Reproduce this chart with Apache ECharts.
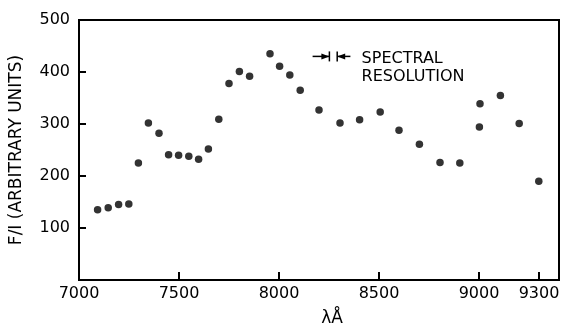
<!DOCTYPE html>
<html>
<head>
<meta charset="utf-8">
<script src="https://cdn.jsdelivr.net/npm/echarts@6/dist/echarts.min.js"></script>
<style>html,body{margin:0;padding:0;background:#fff}#c{width:563px;height:332px}</style>
</head>
<body>
<div id="c"></div>
<script>
// Wavelength (Å) and F/I values
const wavelengths = [7093, 7146, 7198, 7249, 7297, 7347, 7400, 7448, 7498, 7549, 7598, 7647, 7699, 7750, 7802, 7853, 7955, 8003, 8054, 8106, 8200, 8305, 8403, 8506, 8600, 8702, 8805, 8904, 9002, 9005, 9107, 9201, 9299];
const fluxRatio = [135, 139, 145, 146, 225, 302, 282, 241, 240, 238, 232, 252, 309, 378, 401, 392, 435, 411, 394, 365, 327, 302, 308, 323, 288, 261, 226, 225, 294, 339, 355, 301, 190];
const xTicks = [7000, 7500, 8000, 8500, 9000, 9300];
const yTicks = [0, 100, 200, 300, 400, 500];
// spectral resolution marker: [arrow start, bar 1, bar 2, arrow end, level]
const resolutionMarker = [8168, 8252, 8291, 8357, 430];
const noteLines = ['SPECTRAL', 'RESOLUTION'];
const noteAnchor = [8413, 430];

const FONT = 'DejaVu Sans';
const INK = '#000';

const points = wavelengths.map((w, i) => [w, fluxRatio[i]]);

const chart = echarts.init(document.getElementById('c'), null, {renderer: 'canvas'});
chart.setOption({
  animation: false,
  backgroundColor: '#fff',
  grid: {left: 77, right: 4, top: 20, bottom: 50, show: true, borderColor: INK, borderWidth: 2, backgroundColor: 'transparent'},
  xAxis: {
    type: 'value', min: 7000, max: 9400,
    name: 'λÅ', nameLocation: 'middle', nameGap: 30,
    nameTextStyle: {fontFamily: FONT, fontSize: 17, color: INK, padding: [0, 0, 0, 26]},
    axisLine: {show: true, lineStyle: {color: INK, width: 2}},
    axisTick: {show: true, inside: true, length: 8, customValues: xTicks, lineStyle: {color: INK, width: 2}},
    axisLabel: {customValues: xTicks, fontFamily: FONT, fontSize: 16, color: INK, margin: 6,
      formatter: v => String(v)},
    splitLine: {show: false}
  },
  yAxis: {
    type: 'value', min: 0, max: 500, interval: 100,
    name: 'F/I (ARBITRARY UNITS)', nameLocation: 'middle', nameGap: 54, nameRotate: 90,
    nameTextStyle: {fontFamily: FONT, fontSize: 17, color: INK},
    axisLine: {show: true, lineStyle: {color: INK, width: 2}},
    axisTick: {show: true, inside: true, length: 7, lineStyle: {color: INK, width: 2}},
    axisLabel: {fontFamily: FONT, fontSize: 16, color: INK, margin: 9,
      formatter: v => (yTicks.includes(v) && v !== 0) ? String(v) : ''},
    splitLine: {show: false}
  },
  series: [
    {
      type: 'scatter', data: points, symbol: 'circle', symbolSize: 7.5,
      itemStyle: {color: INK}, silent: true
    },
    {
      type: 'custom', silent: true, clip: false,
      data: [resolutionMarker],
      renderItem: function (params, api) {
        const y = api.value(4);
        const a = api.coord([api.value(0), y]);
        const b1 = api.coord([api.value(1), y]);
        const b2 = api.coord([api.value(2), y]);
        const e = api.coord([api.value(3), y]);
        const t = api.coord(noteAnchor);
        const st = {stroke: INK, lineWidth: 1.5};
        return {
          type: 'group',
          children: [
            {type: 'line', shape: {x1: a[0], y1: a[1], x2: b1[0], y2: b1[1]}, style: st},
            {type: 'polygon', shape: {points: [[b1[0] - 8, b1[1] - 3], [b1[0], b1[1]], [b1[0] - 8, b1[1] + 3]]}, style: {fill: INK}},
            {type: 'line', shape: {x1: b1[0], y1: b1[1] - 5, x2: b1[0], y2: b1[1] + 5}, style: st},
            {type: 'line', shape: {x1: b2[0], y1: b2[1] - 5, x2: b2[0], y2: b2[1] + 5}, style: st},
            {type: 'polygon', shape: {points: [[b2[0] + 8, b2[1] - 3], [b2[0], b2[1]], [b2[0] + 8, b2[1] + 3]]}, style: {fill: INK}},
            {type: 'line', shape: {x1: b2[0], y1: b2[1], x2: e[0], y2: e[1]}, style: st},
            {type: 'text', style: {text: noteLines.join('\n'), x: t[0], y: t[1] - 7, fill: INK,
              font: '16px "' + FONT + '"', lineHeight: 18, textAlign: 'left', textVerticalAlign: 'top'}}
          ]
        };
      }
    }
  ]
});
</script>
</body>
</html>
